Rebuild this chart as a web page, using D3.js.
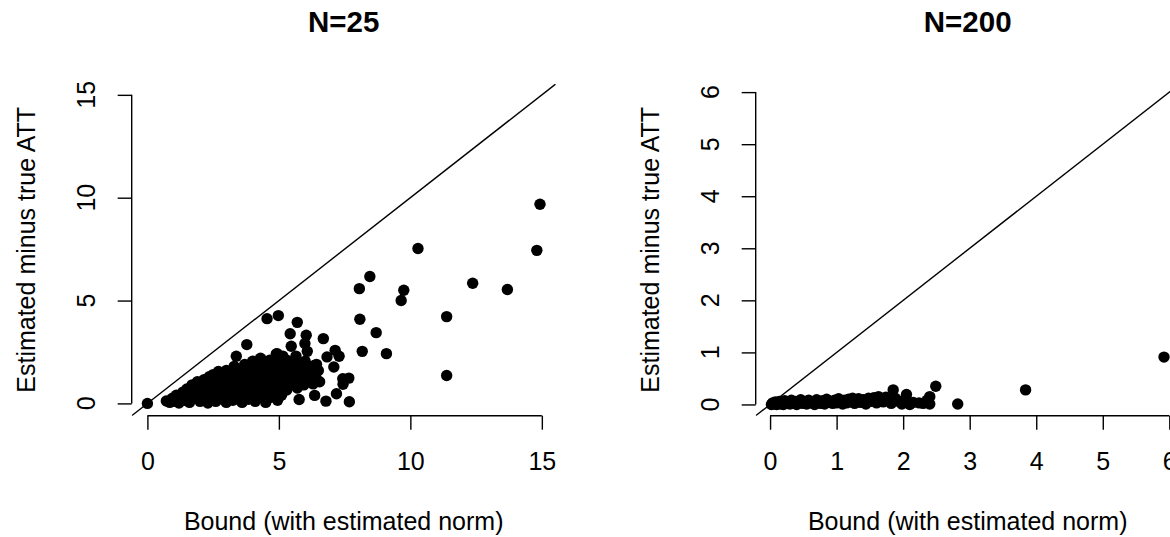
<!DOCTYPE html>
<html>
<head>
<meta charset="utf-8">
<script src="https://cdn.jsdelivr.net/npm/d3@7"></script>
<style>
  body { margin: 0; background: #fff; }
  svg { display: block; overflow: hidden; }
  text { font-family: "Liberation Sans", Arial, sans-serif; fill: #000; }
</style>
</head>
<body>
<script>
// Titles, axis labels and tick values
var titles = ["N=25", "N=200"];
var xLabel = "Bound (with estimated norm)";
var yLabel = "Estimated minus true ATT";
var ticks25 = [0, 5, 10, 15];
var ticks200 = [0, 1, 2, 3, 4, 5, 6];

// [bound, estimated minus true ATT], N=25
var points25 = [
  [0, 0], [14.93, 9.68], [14.81, 7.44], [10.29, 7.53], [12.37, 5.84], [13.69, 5.54],
  [8.46, 6.17], [8.06, 5.58], [9.75, 5.50], [9.65, 5.00], [11.38, 4.22], [11.38, 1.36],
  [8.08, 4.09], [8.70, 3.44], [8.17, 2.53], [9.09, 2.42], [4.98, 4.27], [4.55, 4.12],
  [5.70, 3.94], [5.43, 3.39], [6.04, 3.31], [6.69, 3.15], [5.99, 2.91], [5.47, 2.78],
  [3.78, 2.86], [3.38, 2.29], [4.93, 2.42], [6.08, 2.53], [7.14, 2.58], [6.83, 2.26],
  [7.29, 2.29], [7.09, 1.77], [6.43, 1.90], [4.33, 2.13], [7.43, 1.20], [7.66, 1.23],
  [7.44, 0.93], [7.19, 0.47], [7.68, 0.08], [6.79, 0.11], [6.36, 0.39], [5.77, 0.19],
  [0.72, 0.12], [0.85, 0.05], [0.95, 0.25], [1.05, 0.10], [1.10, 0.40],
  [1.20, 0.02], [1.25, 0.30], [1.35, 0.55], [1.40, 0.15], [1.50, 0.70], [1.50, 0.35],
  [1.60, 0.05], [1.65, 0.50], [1.70, 0.90], [1.75, 0.25], [1.85, 0.70], [1.90, 1.05],
  [1.95, 0.40], [2.00, 0.10], [2.00, 0.85], [2.10, 0.55], [2.15, 1.15], [2.20, 0.25],
  [2.25, 0.80], [2.30, 0.02], [2.35, 1.30], [2.40, 0.60], [2.45, 0.95], [2.50, 0.35],
  [2.50, 1.40], [2.60, 0.10], [2.60, 0.75], [2.65, 1.15], [2.70, 1.55], [2.75, 0.45],
  [2.80, 0.95], [2.85, 0.20], [2.90, 1.30], [2.95, 0.65], [3.00, 1.60], [3.00, 0.05],
  [3.10, 0.40], [3.10, 1.05], [3.15, 1.40], [3.20, 0.80], [3.25, 0.15], [3.30, 1.80],
  [3.35, 0.55], [3.40, 1.20], [3.45, 0.30], [3.50, 0.95], [3.50, 1.60], [3.60, 0.05],
  [3.60, 0.70], [3.65, 1.35], [3.70, 1.90], [3.75, 0.45], [3.80, 1.05], [3.85, 0.20],
  [3.90, 1.65], [3.95, 0.85], [4.00, 1.30], [4.00, 2.05], [4.00, 0.50], [4.10, 0.10],
  [4.10, 1.00], [4.15, 1.75], [4.20, 0.65], [4.25, 1.40], [4.30, 0.30], [4.30, 2.20],
  [4.35, 0.90], [4.40, 1.90], [4.45, 0.40], [4.50, 1.20], [4.50, 1.60], [4.50, 0.05],
  [4.60, 0.75], [4.65, 2.10], [4.70, 0.30], [4.70, 1.40], [4.75, 1.85], [4.80, 1.00],
  [4.85, 0.50], [4.90, 2.40], [4.90, 1.60], [4.95, 0.15], [5.00, 1.20], [5.00, 2.00],
  [5.00, 0.80], [5.10, 1.50], [5.10, 0.40], [5.15, 2.30], [5.20, 1.00], [5.25, 1.80],
  [5.30, 0.65], [5.30, 2.10], [5.35, 1.30], [5.40, 1.65], [5.45, 0.90], [5.50, 2.00],
  [5.50, 1.35], [5.60, 1.10], [5.60, 1.70], [5.65, 2.30], [5.70, 0.75], [5.75, 1.45],
  [5.80, 1.90], [5.85, 1.15], [5.90, 1.60], [5.95, 0.90], [6.00, 2.05], [6.00, 1.35],
  [6.10, 1.70], [6.15, 1.10], [6.20, 1.50], [6.30, 0.95], [6.35, 1.85], [6.40, 1.30],
  [6.50, 1.60], [6.55, 1.05]
];

// same, N=200
var points200 = [
  [5.92, 0.91], [3.84, 0.28], [2.49, 0.35], [2.82, 0.01], [1.85, 0.28], [2.05, 0.19],
  [2.40, 0.15], [2.40, 0.01], [2.10, 0.00], [2.24, 0.03], [1.63, 0.15],
  [0.02, 0.00], [0.04, 0.03], [0.06, 0.01], [0.08, 0.05], [0.10, 0.00], [0.12, 0.02],
  [0.14, 0.06], [0.16, 0.01], [0.18, 0.04], [0.20, 0.00], [0.22, 0.07], [0.25, 0.02],
  [0.27, 0.05], [0.30, 0.01], [0.32, 0.08], [0.35, 0.03], [0.38, 0.06], [0.40, 0.00],
  [0.43, 0.04], [0.46, 0.09], [0.49, 0.02], [0.52, 0.06], [0.55, 0.01], [0.58, 0.08],
  [0.61, 0.03], [0.64, 0.05], [0.67, 0.00], [0.70, 0.09], [0.73, 0.04], [0.76, 0.02],
  [0.79, 0.07], [0.82, 0.01], [0.85, 0.10], [0.88, 0.04], [0.91, 0.06], [0.94, 0.02],
  [0.97, 0.08], [1.00, 0.03], [1.03, 0.11], [1.06, 0.05], [1.09, 0.01], [1.12, 0.08],
  [1.15, 0.03], [1.18, 0.10], [1.21, 0.05], [1.24, 0.12], [1.27, 0.02], [1.30, 0.07],
  [1.33, 0.11], [1.36, 0.04], [1.40, 0.09], [1.44, 0.01], [1.48, 0.12], [1.52, 0.06],
  [1.56, 0.13], [1.60, 0.03], [1.65, 0.10], [1.70, 0.05], [1.74, 0.14], [1.78, 0.08],
  [1.82, 0.02], [1.88, 0.12], [1.93, 0.06], [1.98, 0.01], [2.02, 0.09], [2.15, 0.04],
  [2.30, 0.02], [2.36, 0.08]
];

var width = 1170, height = 537;
var fontSize = 25;
var svg = d3.select("body").append("svg")
    .attr("width", width)
    .attr("height", height);

// Draw one R-style panel
function drawPanel(offsetX, title, points, tickVals, id) {
    var plot = {left: offsetX + 131.7, width: 424, top: 84, bottom: 415.7};

    // limits like R: data range of the bound, padded 4%, same on both axes
    var ext = d3.extent(points, function(d) { return d[0]; });
    var pad = (ext[1] - ext[0]) * 0.04;
    var lim = [ext[0] - pad, ext[1] + pad];

    var x = d3.scaleLinear().domain(lim).range([plot.left, plot.left + plot.width]);
    var y = d3.scaleLinear().domain(lim).range([plot.bottom, plot.top]);

    var g = svg.append("g");

    // clip for abline
    g.append("clipPath").attr("id", "clip" + id)
      .append("rect")
        .attr("x", plot.left).attr("y", plot.top)
        .attr("width", plot.width).attr("height", plot.bottom - plot.top);

    // points
    g.append("g").selectAll("circle")
        .data(points)
        .enter()
        .append("circle")
            .attr("cx", function(d) { return x(d[0]); })
            .attr("cy", function(d) { return y(d[1]); })
            .attr("r", 5.7)
            .attr("fill", "#000");

    // 45 degree line
    g.append("line")
        .attr("clip-path", "url(#clip" + id + ")")
        .attr("x1", x(lim[0])).attr("y1", y(lim[0]))
        .attr("x2", x(lim[1])).attr("y2", y(lim[1]))
        .attr("stroke", "#000").attr("stroke-width", 1.4);

    // x axis
    var xAxis = g.append("g")
        .attr("transform", "translate(0," + plot.bottom + ")")
        .call(d3.axisBottom(x).tickValues(tickVals).tickSize(14).tickPadding(23).tickFormat(d3.format("d")));
    xAxis.select(".domain").remove();
    xAxis.append("line")
        .attr("x1", x(tickVals[0])).attr("x2", x(tickVals[tickVals.length - 1]))
        .attr("stroke", "#000").attr("stroke-width", 1.4);
    xAxis.selectAll(".tick line").attr("stroke-width", 1.4);
    xAxis.selectAll("text")
        .style("font-size", fontSize + "px")
        .style("font-family", "'Liberation Sans', Arial, sans-serif")
        .attr("fill", "#000");

    // y axis, labels rotated like R (las = 0)
    var yAxis = g.append("g")
        .attr("transform", "translate(" + plot.left + ",0)")
        .call(d3.axisLeft(y).tickValues(tickVals).tickSize(14).tickFormat(""));
    yAxis.select(".domain").remove();
    yAxis.append("line")
        .attr("y1", y(tickVals[0])).attr("y2", y(tickVals[tickVals.length - 1]))
        .attr("stroke", "#000").attr("stroke-width", 1.4);
    yAxis.selectAll(".tick line").attr("stroke-width", 1.4);

    g.append("g").selectAll("text")
        .data(tickVals)
        .enter()
        .append("text")
            .attr("transform", function(d) { return "translate(" + (plot.left - 37) + "," + y(d) + ") rotate(-90)"; })
            .attr("text-anchor", "middle")
            .style("font-size", fontSize + "px")
            .text(function(d) { return d; });

    var cx = plot.left + plot.width / 2;
    var cy = (plot.top + plot.bottom) / 2;

    // title
    g.append("text")
        .attr("x", cx).attr("y", 32)
        .attr("text-anchor", "middle")
        .style("font-size", "29.5px")
        .style("font-weight", "bold")
        .text(title);

    // axis titles
    g.append("text")
        .attr("x", cx).attr("y", 530)
        .attr("text-anchor", "middle")
        .style("font-size", fontSize + "px")
        .text(xLabel);

    g.append("text")
        .attr("transform", "translate(" + (plot.left - 97) + "," + cy + ") rotate(-90)")
        .attr("text-anchor", "middle")
        .style("font-size", fontSize + "px")
        .text(yLabel);
}

drawPanel(0, titles[0], points25, ticks25, 1);
drawPanel(624, titles[1], points200, ticks200, 2);
</script>
</body>
</html>
